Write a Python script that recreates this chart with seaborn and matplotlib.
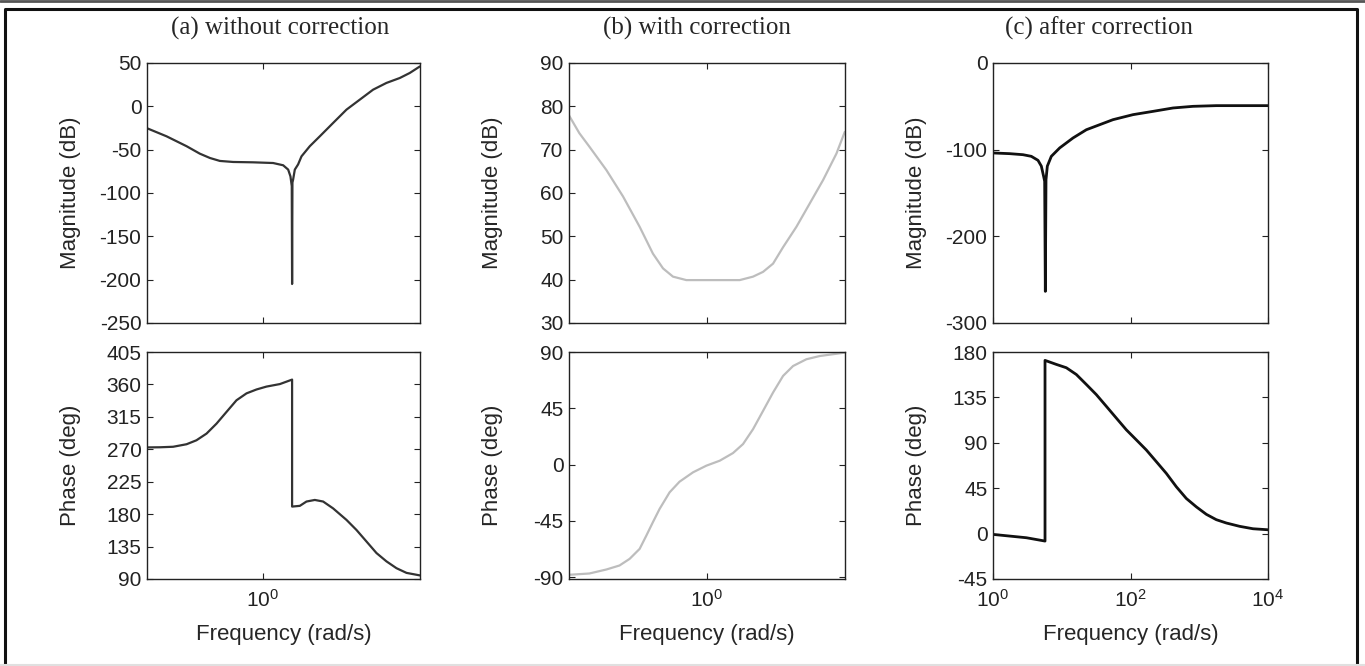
import numpy as np
import matplotlib
matplotlib.use('Agg')
import matplotlib.pyplot as plt
from matplotlib.lines import Line2D
from matplotlib.ticker import FixedLocator, LogFormatterMathtext, NullLocator
import seaborn as sns

sns.set_style('ticks')
plt.rcParams['font.family'] = ['Liberation Sans', 'DejaVu Sans']
plt.rcParams['mathtext.default'] = 'regular'
plt.rcParams['axes.unicode_minus'] = False

# (a) without correction
freq_a_mag = [0.198, 0.262, 0.346, 0.416, 0.479, 0.550, 0.662, 0.873, 1.154, 1.327, 1.423,
              1.469, 1.496, 1.503, 1.51, 1.524, 1.561, 1.634, 1.713, 1.923, 2.210, 2.659,
              3.204, 3.855, 4.638, 5.586, 6.728, 7.730, 8.89]
mag_a = [-25, -34.6, -46, -54.6, -59.6, -63, -64.2, -64.6, -65.4, -68, -73,
         -80.8, -92, -205, -88, -84.6, -73, -67, -57.7, -46, -34.6, -19.2,
         -3.8, 7.7, 19.2, 27, 32.7, 38.5, 46]
freq_a_ph = [0.198, 0.239, 0.287, 0.346, 0.397, 0.457, 0.525, 0.604, 0.693, 0.797, 0.916,
             1.052, 1.268, 1.503, 1.503, 1.674, 1.836, 2.062, 2.315, 2.659, 3.204, 3.683,
             4.233, 4.864, 5.586, 6.424, 7.383, 8.89]
phase_a = [272.6, 272.8, 273.5, 277, 282.5, 291.8, 305.6, 322, 338, 347.6, 353,
           357, 360.5, 366.7, 190.5, 191.5, 197.5, 199.7, 197.5, 188, 172, 158,
           142, 126, 114.5, 105, 98.5, 95]

# (b) with correction
freq_b_mag = [0.158, 0.182, 0.208, 0.261, 0.326, 0.407, 0.486, 0.556, 0.635, 0.759, 0.991,
              1.547, 1.849, 2.113, 2.415, 2.761, 3.299, 3.943, 4.711, 5.629, 6.29]
mag_b = [78, 73.8, 70.7, 65.3, 59.2, 52.2, 46, 42.6, 40.7, 39.9, 39.9,
         39.9, 40.7, 41.8, 43.7, 47.5, 52.2, 57.6, 63, 69.1, 74.1]
freq_b_ph = [0.160, 0.208, 0.261, 0.311, 0.356, 0.407, 0.445, 0.486, 0.531, 0.607, 0.693,
             0.830, 0.991, 1.186, 1.415, 1.618, 1.849, 2.113, 2.415, 2.761, 3.155, 3.768,
             4.508, 6.29]
phase_b = [-88.1, -87.1, -83.9, -80.7, -75.4, -67.4, -56.8, -46, -35.5, -22.2, -13.7,
           -6.2, -0.9, 3.1, 9.2, 16.4, 28.3, 42.9, 57.6, 70.9, 78.8, 84.2,
           86.8, 89.5]

# (c) after correction
freq_c_mag = [1.0, 1.746, 2.731, 3.610, 4.513, 5.047, 5.458, 5.643, 5.77, 5.90, 6.17, 7.05,
              9.33, 14.58, 22.8, 35.6, 55.6, 108.7, 212.5, 415.4, 811, 1770, 10000]
mag_c = [-103.8, -104.6, -105.8, -107.7, -112.3, -119, -131, -136.5, -263.5, -134.6, -119,
         -107.7, -98, -86.5, -77, -71.2, -65.4, -59.6, -55.8, -51.9, -50, -49.2, -49.2]
freq_c_ph = [1.0, 3.055, 5.71, 5.71, 8.34, 11.66, 16.3, 22.8, 31.8, 44.46, 62.2, 86.9,
             121.6, 169.8, 237.6, 331.9, 464.3, 649, 907, 1268, 1770, 2477, 3870, 6053,
             10000]
phase_c = [-0.8, -4.1, -7.4, 171.7, 167.7, 164.4, 157.7, 147.8, 137.8, 126.2, 114.5, 102.9,
           92.9, 82.9, 71.3, 59.7, 46.4, 34.8, 26.5, 19.1, 13.8, 10.5, 7.2, 4.8,
           3.8]

titles = ['(a) without correction', '(b) with correction', '(c) after correction']

fig = plt.figure(figsize=(13.65, 6.66), dpi=100)

W, H = 1365, 666
lefts = [147, 569, 993]
widths = [273, 276, 275]


def make_ax(left, width, top, bottom):
    return fig.add_axes([left / W, 1 - bottom / H, width / W, (bottom - top) / H])


panels = [
    dict(fm=freq_a_mag, m=mag_a, fp=freq_a_ph, p=phase_a, color='#333333', lw=1.6,
         xlim=(10 ** -0.7, 10 ** 0.95), xt=[1],
         mlim=(-250, 50), mt=np.arange(-250, 51, 50),
         plim=(90, 405), pt=np.arange(90, 406, 45)),
    dict(fm=freq_b_mag, m=mag_b, fp=freq_b_ph, p=phase_b, color='#bdbdbd', lw=1.6,
         xlim=(10 ** -0.8, 10 ** 0.8), xt=[1],
         mlim=(30, 90), mt=np.arange(30, 91, 10),
         plim=(-91.5, 90), pt=np.arange(-90, 91, 45)),
    dict(fm=freq_c_mag, m=mag_c, fp=freq_c_ph, p=phase_c, color='#111111', lw=2.0,
         xlim=(1, 1e4), xt=[1, 100, 1e4],
         mlim=(-300, 0), mt=np.arange(-300, 1, 100),
         plim=(-45, 180), pt=np.arange(-45, 181, 45)),
]

title_x = [280, 697, 1099]

for i, pn in enumerate(panels):
    ax1 = make_ax(lefts[i], widths[i], 63, 323)
    ax2 = make_ax(lefts[i], widths[i], 352, 579)
    sns.lineplot(x=pn['fm'], y=pn['m'], ax=ax1, color=pn['color'], lw=pn['lw'],
                 sort=False, estimator=None)
    sns.lineplot(x=pn['fp'], y=pn['p'], ax=ax2, color=pn['color'], lw=pn['lw'],
                 sort=False, estimator=None)
    for ax, lim, yt in [(ax1, pn['mlim'], pn['mt']), (ax2, pn['plim'], pn['pt'])]:
        ax.set_xscale('log')
        ax.set_xlim(*pn['xlim'])
        ax.xaxis.set_major_locator(FixedLocator(pn['xt']))
        ax.xaxis.set_minor_locator(NullLocator())
        ax.xaxis.set_major_formatter(LogFormatterMathtext())
        ax.set_ylim(*lim)
        ax.set_yticks(yt)
        ax.tick_params(direction='in', top=True, right=True, length=4, width=0.8,
                       labelsize=15, colors='#222222', pad=4)
        ax.tick_params(axis='x', pad=7)
        for s in ax.spines.values():
            s.set_visible(True)
            s.set_color('#222222')
            s.set_linewidth(1.0)
    ax1.tick_params(labelbottom=False)
    ax1.set_ylabel('Magnitude (dB)', fontsize=16)
    ax2.set_ylabel('Phase (deg)', fontsize=16)
    ax2.set_xlabel('Frequency (rad/s)', fontsize=16)
    ax1.yaxis.set_label_coords(-0.24, 0.5)
    ax2.yaxis.set_label_coords(-0.24, 0.5)
    ax2.xaxis.set_label_coords(0.5, -0.2)
    fig.text(title_x[i] / W, 1 - 28 / H, titles[i], ha='center', va='center',
             fontsize=18, family=['Liberation Serif', 'DejaVu Serif'])

# outer frame
fig.add_artist(Line2D([0, 1], [1 - 1 / H, 1 - 1 / H], transform=fig.transFigure,
                      color='#555555', lw=2))
fig.add_artist(Line2D([5 / W, 5 / W, 1357 / W, 1357 / W], [0, 1 - 9 / H, 1 - 9 / H, 0],
                      transform=fig.transFigure, color='#111111', lw=2.2))
fig.add_artist(Line2D([0, 1], [1 / H, 1 / H], transform=fig.transFigure,
                      color='#e0e0e0', lw=1.5))

fig.savefig('out.png', dpi=100)
